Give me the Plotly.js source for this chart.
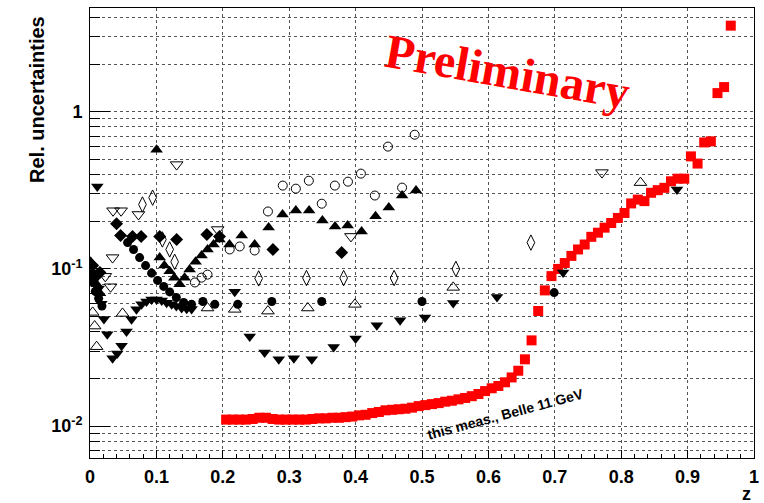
<!DOCTYPE html>
<html>
<head>
<meta charset="utf-8">
<script src="https://cdn.plot.ly/plotly-3.0.1.min.js"></script>
<style>
  html, body { margin: 0; padding: 0; background: #fff; }
  #chart { width: 764px; height: 503px; }
</style>
</head>
<body>
<div id="chart"></div>
<script>
// Relative uncertainties versus z: this measurement (red) and earlier results (black).

// this meas., Belle 11 GeV
const belleZ = [0.205,0.215,0.225,0.235,0.245,0.255,0.265,0.275,0.285,0.295,
  0.305,0.315,0.325,0.335,0.345,0.355,0.365,0.375,0.385,0.395,
  0.405,0.415,0.425,0.435,0.445,0.455,0.465,0.475,0.485,0.495,
  0.505,0.515,0.525,0.535,0.545,0.555,0.565,0.575,0.585,0.595,
  0.605,0.615,0.625,0.635,0.645,0.655,0.665,0.675,0.685,0.695,
  0.705,0.715,0.725,0.735,0.745,0.755,0.765,0.775,0.785,0.795,
  0.805,0.815,0.825,0.835,0.845,0.855,0.865,0.875,0.885,0.895,
  0.905,0.915,0.925,0.935,0.945,0.955,0.965];
const belleU = [0.0110,0.0110,0.0110,0.0110,0.0111,0.0113,0.0113,0.0111,0.0110,0.0110,
  0.0110,0.0110,0.0110,0.0111,0.0112,0.0112,0.0113,0.0113,0.0114,0.0115,
  0.0117,0.0118,0.0121,0.0123,0.0126,0.0127,0.0128,0.0129,0.0131,0.0134,
  0.0136,0.0138,0.0140,0.0143,0.0145,0.0148,0.0151,0.0155,0.0160,0.0167,
  0.0174,0.0180,0.0190,0.0204,0.0225,0.0266,0.0351,0.054,0.073,0.090,
  0.100,0.109,0.121,0.133,0.143,0.160,0.170,0.183,0.196,0.211,
  0.227,0.261,0.276,0.270,0.305,0.317,0.328,0.361,0.375,0.375,
  0.520,0.468,0.638,0.648,1.314,1.435,3.53];

// filled triangles down
const tdfZ = [0.011,0.005,0.008,0.013,0.017,0.021,0.026,0.034,0.041,0.0475,0.055,0.0626,0.070,0.0777,0.085,0.0928,0.1003,0.108,0.1154,0.123,0.130,0.138,0.1456,0.153,
  0.218,0.2405,0.263,0.2843,0.307,0.334,0.367,0.400,0.432,0.467,0.5045,0.547,0.613,0.7125,0.884];
const tdfU = [0.334,0.095,0.086,0.075,0.060,0.048,0.0384,0.027,0.029,0.0324,0.040,0.0478,0.0553,0.0595,0.062,0.064,0.064,0.063,0.061,0.0595,0.058,0.0564,0.0558,0.0555,
  0.0715,0.0371,0.0294,0.0266,0.027,0.0266,0.0318,0.0361,0.0438,0.0471,0.049,0.0606,0.0662,0.0948,0.320];

// filled triangles up
const tufZ = [0.001,0.005,0.010,0.015,0.1003,0.105,0.112,0.120,0.127,0.135,0.1425,0.150,0.159,0.168,0.177,0.186,0.195,0.210,0.2285,0.248,0.269,0.290,0.310,0.330,0.350,0.369,0.388,0.409,0.430,0.450,0.470,0.491];
const tufU = [0.111,0.092,0.080,0.070,0.574,0.118,0.105,0.0965,0.088,0.080,0.088,0.0993,0.111,0.1215,0.133,0.143,0.154,0.143,0.163,0.143,0.1835,0.222,0.235,0.235,0.203,0.186,0.189,0.173,0.216,0.246,0.293,0.315];

// filled circles
const cfZ = [0.003,0.008,0.013,0.018,0.0566,0.0656,0.0747,0.0837,0.0928,0.1018,0.111,0.120,0.130,0.141,0.153,0.170,0.188,0.2225,0.2738,0.349,0.500,0.699];
const cfU = [0.083,0.072,0.065,0.058,0.147,0.133,0.118,0.105,0.094,0.0845,0.0774,0.0714,0.0658,0.0612,0.0595,0.062,0.0595,0.0595,0.062,0.062,0.062,0.0707];

// filled diamonds
const dfZ = [0.004,0.015,0.040,0.046,0.064,0.077,0.105,0.1305,0.176,0.195,0.2755,0.379];
const dfU = [0.105,0.095,0.194,0.163,0.161,0.161,0.161,0.154,0.1656,0.161,0.133,0.127];

// open triangles up
const tuoZ = [0.004,0.004,0.007,0.010,0.049,0.147,0.177,0.218,0.268,0.328,0.399,0.547,0.829];
const tuoU = [0.0993,0.0529,0.0433,0.032,0.0521,0.0575,0.0564,0.0553,0.0539,0.0564,0.0595,0.0763,0.354];

// open triangles down
const tdoZ = [0.023,0.031,0.034,0.0347,0.0468,0.073,0.1305,0.1923,0.393,0.771];
const tdoU = [0.0897,0.077,0.118,0.2345,0.2345,0.222,0.461,0.178,0.161,0.410];

// open circles
const coZ = [0.158,0.168,0.177,0.2104,0.2255,0.248,0.268,0.2903,0.310,0.3296,0.349,0.3688,0.3885,0.408,0.429,0.4487,0.470,0.489];
const coU = [0.082,0.088,0.092,0.133,0.139,0.131,0.232,0.339,0.324,0.364,0.260,0.339,0.359,0.404,0.293,0.600,0.329,0.714];

// open diamonds
const doZ = [0.079,0.0943,0.109,0.120,0.1275,0.254,0.326,0.382,0.458,0.551,0.664];
const doU = [0.257,0.284,0.154,0.133,0.111,0.087,0.0875,0.0875,0.0875,0.100,0.147];

// axis tick labels
const xTickVals = [0,0.1,0.2,0.3,0.4,0.5,0.6,0.7,0.8,0.9,1];
const xTickText = ['0','0.1','0.2','0.3','0.4','0.5','0.6','0.7','0.8','0.9','1'];
const yTickVals = [0.01,0.1,1];
const yTickText = ['10<sup>-2</sup>','10<sup>-1</sup>','1'];
const yMinorVals = [0.007,0.008,0.009,0.02,0.03,0.04,0.05,0.06,0.07,0.08,0.09,
  0.2,0.3,0.4,0.5,0.6,0.7,0.8,0.9,2,3,4];

function series(x, y, symbol, size, color) {
  const open = symbol.indexOf('open') >= 0;
  return {
    type: 'scatter', mode: 'markers', x: x, y: y,
    hoverinfo: 'skip', showlegend: false,
    marker: {
      symbol: symbol, size: size, color: color,
      line: { width: open ? 1 : 0, color: color }
    }
  };
}

const traces = [
  series(belleZ, belleU, 'square', 10, '#ff0000'),
  series(doZ, doU, 'diamond-tall-open', 11, '#000'),
  series(coZ, coU, 'circle-open', 9, '#000'),
  series(tdoZ, tdoU, 'triangle-down-open', 11, '#000'),
  series(tuoZ, tuoU, 'triangle-up-open', 11, '#000'),
  series(dfZ, dfU, 'diamond', 10, '#000'),
  series(cfZ, cfU, 'circle', 9, '#000'),
  series(tufZ, tufU, 'triangle-up', 11, '#000'),
  series(tdfZ, tdfU, 'triangle-down', 11, '#000')
];

const tickFont = { family: 'Liberation Sans, Arial, sans-serif', size: 18, color: '#000', weight: 'bold' };
const gridStyle = { showgrid: true, gridcolor: '#555', griddash: 'dot', gridwidth: 1 };

const layout = {
  width: 764, height: 503,
  margin: { l: 90, r: 10, t: 8, b: 45, pad: 0 },
  paper_bgcolor: '#fff', plot_bgcolor: '#fff',
  xaxis: Object.assign({
    range: [0, 1], tickmode: 'array', tickvals: xTickVals, ticktext: xTickText,
    ticks: 'inside', ticklen: 8, tickwidth: 1, tickcolor: '#000',
    minor: { dtick: 0.02, tick0: 0, ticks: 'inside', ticklen: 4, tickcolor: '#000', showgrid: false },
    showline: true, linecolor: '#000', linewidth: 1, mirror: true,
    zeroline: false, tickfont: tickFont, ticklabelstandoff: 2
  }, gridStyle),
  yaxis: Object.assign({
    type: 'log', range: [-2.203, 0.660],
    tickmode: 'array', tickvals: yTickVals, ticktext: yTickText,
    ticks: 'inside', ticklen: 20, tickwidth: 1, tickcolor: '#000',
    minor: { tickmode: 'array', tickvals: yMinorVals, ticks: 'inside', ticklen: 10, tickcolor: '#000',
      showgrid: true, gridcolor: '#555', griddash: 'dot', gridwidth: 1 },
    showline: true, linecolor: '#000', linewidth: 1, mirror: true,
    zeroline: false, tickfont: tickFont, ticklabelstandoff: 3
  }, gridStyle),
  annotations: [
    { text: 'Rel. uncertainties', xref: 'paper', yref: 'paper', x: -0.0798, y: 0.7956,
      textangle: -90, showarrow: false, xanchor: 'center', yanchor: 'middle',
      font: { family: 'Liberation Sans, Arial, sans-serif', size: 20, color: '#000', weight: 'bold' } },
    { text: 'z', xref: 'paper', yref: 'paper', x: 0.988, y: -0.0800,
      showarrow: false, xanchor: 'center', yanchor: 'middle',
      font: { family: 'Liberation Sans, Arial, sans-serif', size: 18, color: '#000', weight: 'bold' } },
    { text: 'Preliminary', xref: 'paper', yref: 'paper', x: 0.6295, y: 0.8578,
      textangle: 10, showarrow: false, xanchor: 'center', yanchor: 'middle',
      font: { family: 'Liberation Serif, Times New Roman, serif', size: 48, color: '#ff0000', weight: 'bold' } },
    { text: 'this meas., Belle 11 GeV', xref: 'paper', yref: 'paper', x: 0.6265, y: 0.0978,
      textangle: -15, showarrow: false, xanchor: 'center', yanchor: 'middle',
      font: { family: 'Liberation Sans, Arial, sans-serif', size: 14, color: '#000', weight: 'bold' } }
  ]
};

Plotly.newPlot('chart', traces, layout, { displayModeBar: false, staticPlot: true });
</script>
</body>
</html>
